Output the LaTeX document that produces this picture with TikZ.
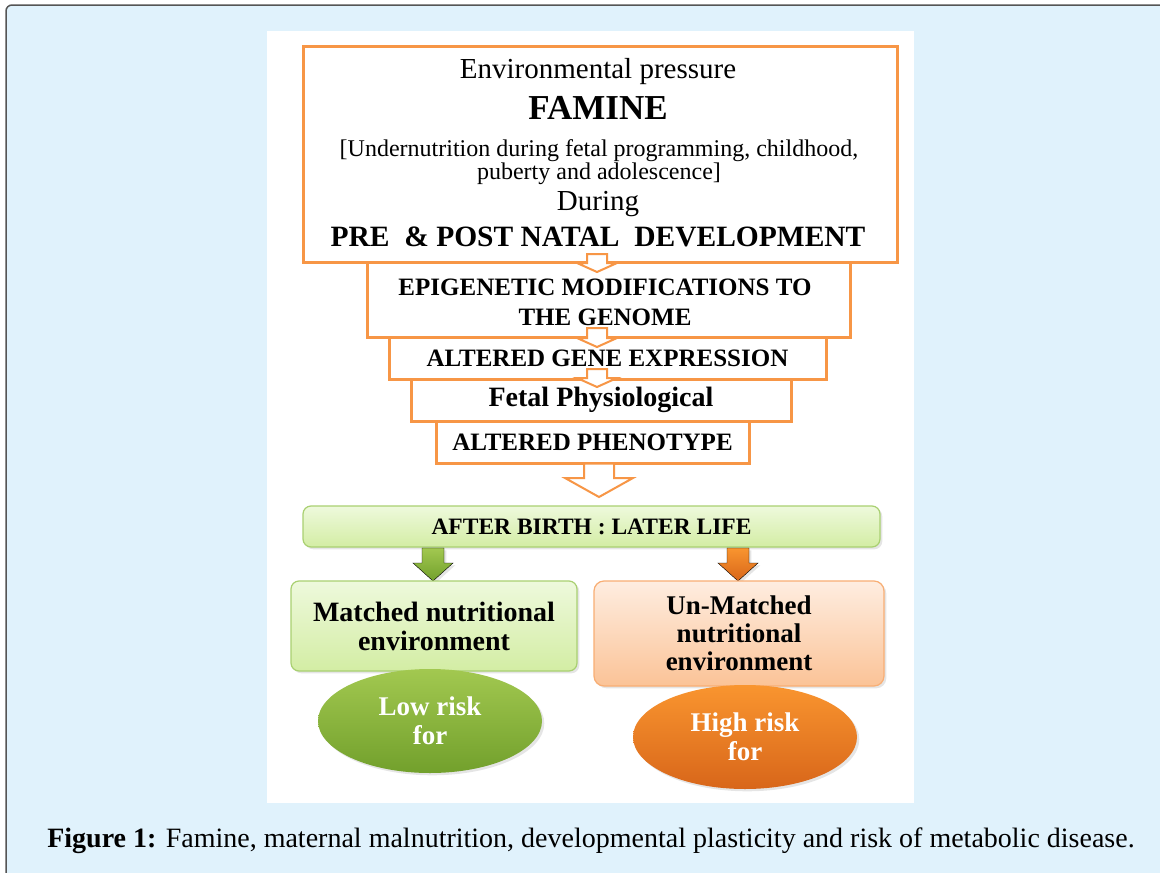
\documentclass[tikz,border=0pt]{standalone}
\usepackage{fontspec}
\setmainfont{Liberation Serif}
\usetikzlibrary{shapes.geometric,shadows}

\definecolor{pagebg}{HTML}{E0F2FC}
\definecolor{frameline}{HTML}{555555}
\definecolor{floworange}{HTML}{F79646}
\definecolor{bargreenT}{HTML}{EEF9DC}
\definecolor{bargreenB}{HTML}{D3EDA4}
\definecolor{barline}{HTML}{A9D071}
\definecolor{envorangeT}{HTML}{FEEDE0}
\definecolor{envorangeB}{HTML}{FBC397}
\definecolor{envline}{HTML}{F8AE74}
\definecolor{riskgreenT}{HTML}{A2C850}
\definecolor{riskgreenB}{HTML}{72A02C}
\definecolor{riskorangeT}{HTML}{F9952F}
\definecolor{riskorangeB}{HTML}{D8661A}

% down block arrow: style, x, shaft half, head half, top y, head y, tip y
\newcommand{\downblock}[7]{%
  \draw[#1] ({#2-#3},#5) -- ({#2+#3},#5) -- ({#2+#3},#6) -- ({#2+#4},#6)
    -- (#2,#7) -- ({#2-#4},#6) -- ({#2-#3},#6) -- cycle;}

\tikzset{
  flowbox/.style={draw=floworange,line width=3pt,fill=white,inner sep=0pt},
  hollowarr/.style={draw=floworange,line width=2pt,fill=white,line join=miter},
  greenbox/.style={draw=barline,line width=1.2pt,rounded corners=8pt,
    top color=bargreenT,bottom color=bargreenB,drop shadow={opacity=0.2}},
  orangebox/.style={draw=envline,line width=1.2pt,rounded corners=10pt,
    top color=envorangeT,bottom color=envorangeB,drop shadow={opacity=0.2}},
  riskblob/.style={ellipse,minimum width=224pt,minimum height=104pt,
    text=white,font=\fontsize{27}{29}\selectfont\bfseries,align=center,
    drop shadow={opacity=0.2}},
  capstxt/.style={font=\fontsize{25}{30}\selectfont\bfseries,align=center},
  lowtxt/.style={font=\fontsize{28}{29}\selectfont\bfseries,align=center}
}

\begin{document}
\begin{tikzpicture}[x=1pt,y=-1pt]
  \useasboundingbox (0,0) rectangle (1160,873);
  % page and panel
  \fill[pagebg,draw=frameline,line width=1.5pt,rounded corners=6pt] (6,5) rectangle (1180,890);
  \fill[white] (267,31) rectangle (914,803);

  % flow of boxes
  \node[flowbox,minimum width=594pt,minimum height=216pt] (famine) at (600,154) {};
  \node (envp) at (598,72) {\fontsize{29}{30}\selectfont Environmental pressure};
  \node (famtxt) at (598,108) {\fontsize{35}{36}\selectfont\bfseries FAMINE};
  \node[align=center] (under) at (599,162) {\fontsize{24}{26}\selectfont [Undernutrition during fetal programming, childhood,\\ \fontsize{24}{26}\selectfont puberty and adolescence]};
  \node (during) at (598,204) {\fontsize{29}{30}\selectfont During};
  \node (prepost) at (598,237) {\fontsize{29.5}{34}\selectfont\bfseries PRE \ \& POST NATAL \ DEVELOPMENT};

  \node[flowbox,minimum width=483pt,minimum height=75pt] (epi) at (608.5,299.5) {};
  \node[capstxt] (epitxt) at (605,302) {EPIGENETIC MODIFICATIONS TO\\THE GENOME};
  \node[flowbox,minimum width=437pt,minimum height=42pt,capstxt] (gene) at (607.5,358) {ALTERED GENE EXPRESSION};
  \node[flowbox,minimum width=380pt,minimum height=42pt,lowtxt] (fetal) at (601,400) {Fetal Physiological};
  \node[flowbox,minimum width=313pt,minimum height=42pt,capstxt] (pheno) at (592.5,442) {ALTERED PHENOTYPE};

  % hollow arrows between boxes
  \downblock{hollowarr}{597}{10}{20}{254}{263}{272}
  \downblock{hollowarr}{597}{10}{20}{328}{338}{347}
  \downblock{hollowarr}{597}{10}{20}{369}{378}{387}
  \downblock{hollowarr}{599}{15}{34}{463.5}{478}{497}

  % later life
  \node[greenbox,minimum width=577pt,minimum height=41pt,font=\fontsize{23.5}{28}\selectfont\bfseries] (later) at (591.5,526.5) {AFTER BIRTH : LATER LIFE};
  \downblock{top color=riskgreenT,bottom color=riskgreenB,drop shadow={opacity=0.2}}{433}{11}{20}{548}{563}{581}
  \downblock{top color=riskorangeT,bottom color=riskorangeB,drop shadow={opacity=0.2}}{738}{11}{20}{548}{563}{581}

  \node[greenbox,minimum width=286pt,minimum height=90pt,lowtxt] (matched) at (434,626) {Matched nutritional\\environment};
  \node[orangebox,minimum width=290pt,minimum height=105pt,font=\fontsize{27}{28}\selectfont\bfseries,align=center] (unmatched) at (739,633.5) {Un-Matched\\nutritional\\environment};

  \node[riskblob,top color=riskgreenT,bottom color=riskgreenB] (low) at (430,721) {Low risk\\for};
  \node[riskblob,top color=riskorangeT,bottom color=riskorangeB] (high) at (745,737) {High risk\\for};

  % caption
  \node (cap) at (591,841) {\fontsize{28}{30}\selectfont\textbf{Figure 1:} Famine, maternal malnutrition, developmental plasticity and risk of metabolic disease.};
\end{tikzpicture}
\end{document}
